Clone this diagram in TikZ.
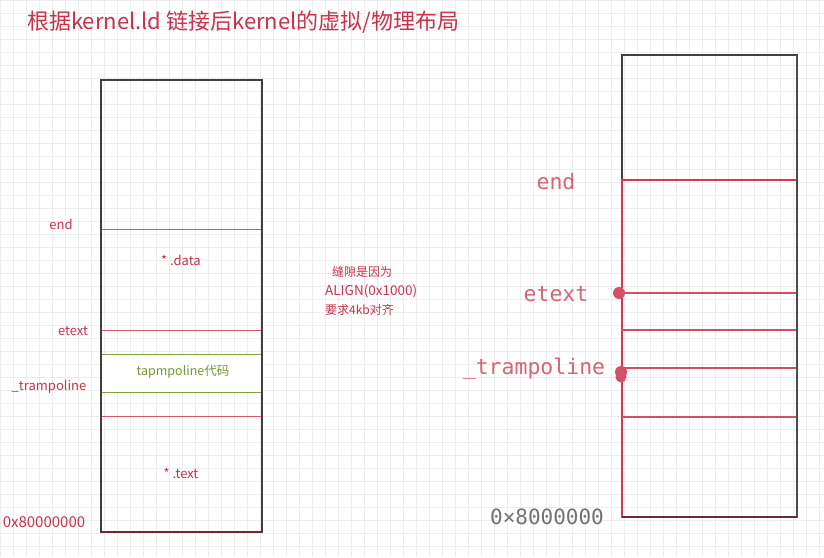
\documentclass[tikz,border=0pt]{standalone}
\usepackage{fontspec}
\setmainfont{Noto Sans CJK SC}
\newfontfamily\monof{DejaVu Sans Mono}
\begin{document}
\begin{tikzpicture}[x=1pt,y=-1pt,
  gridline/.style={draw=black!7,line width=0.5pt},
  outerbox/.style={draw=black!75,line width=1.4pt},
  redline/.style={draw={rgb,255:red,210;green,80;blue,100},line width=1.2pt},
  redlinel/.style={draw={rgb,255:red,214;green,88;blue,110},line width=1pt},
  greenbox/.style={draw={rgb,255:red,130;green,160;blue,60},line width=1pt},
  redtxt/.style={text={rgb,255:red,200;green,50;blue,75}},
  smalltxt/.style={redtxt,font=\fontsize{13}{15}\selectfont},
  pinktxt/.style={text={rgb,255:red,214;green,100;blue,118},font=\monof\fontsize{21.5}{24}\selectfont},
  dot/.style={circle,fill={rgb,255:red,214;green,80;blue,100},inner sep=0pt,minimum size=12pt}
]
\useasboundingbox (0,0) rectangle (824,557);
\fill[white] (0,0) rectangle (824,557);
% grid
\foreach \i in {0,...,64} {\draw[gridline] (\i*13,0) -- (\i*13,557);}
\foreach \j in {0,...,43} {\draw[gridline] (0,\j*13) -- (824,\j*13);}
% title
\node[redtxt,font=\fontsize{22}{26}\selectfont,anchor=west,inner sep=0pt] (title) at (27,22) {根据kernel.ld\ 链接后kernel的虚拟/物理布局};
% left diagram
\draw[redlinel] (101,229) -- (262,229);
\draw[redlinel] (101,330) -- (262,330);
\draw[redlinel] (101,416) -- (262,416);
\draw[greenbox,fill=white] (101,354) rectangle (262,392);
\draw[outerbox] (101,80) rectangle (262,532);
\draw[draw={rgb,255:red,110;green,40;blue,50},line width=1.8pt] (101,532) -- (262,532);
\node[smalltxt] (lend) at (61,224) {end};
\node[smalltxt] (ldata) at (181,260) {* .data};
\node[smalltxt] (letext) at (73,331) {etext};
\node[text={rgb,255:red,120;green,150;blue,50},font=\fontsize{12.5}{15}\selectfont] (ltramp) at (183,372) {tapmpoline代码};
\node[smalltxt] (ltl) at (49,387) {\_trampoline};
\node[smalltxt] (ltext) at (181,473) {* .text};
\node[redtxt,font=\fontsize{15}{17}\selectfont] (laddr) at (44,522) {0x80000000};
% middle note
\node[redtxt,font=\fontsize{12}{19}\selectfont,align=left,anchor=north west,inner sep=0pt] (note) at (325,266) {\hspace*{7pt}缝隙是因为\\\fontsize{13.5}{19}\selectfont ALIGN(0x1000)\\要求4kb对齐};
% right diagram
\draw[outerbox] (622,55) rectangle (797,517);
\draw[redline,draw={rgb,255:red,200;green,60;blue,85}] (622,180) rectangle (797,517);
\draw[redline] (622,293) -- (797,293);
\draw[redline] (622,330) -- (797,330);
\draw[redline] (622,368) -- (797,368);
\draw[redline] (622,417) -- (797,417);
\draw[draw=black!70,line width=1.4pt] (797,55) -- (797,517);
\draw[draw={rgb,255:red,110;green,40;blue,55},line width=1.8pt] (622,517) -- (797,517);
\node[dot] (d1) at (619,293) {};
\node[dot] (d2) at (621,372) {};
\node[dot,minimum size=11pt] (d3) at (621,377) {};
\node[pinktxt] (rend) at (556,181) {end};
\node[pinktxt] (retext) at (556,294) {etext};
\node[pinktxt] (rtl) at (534,369) {\_trampoline};
\node[text=black!55,font=\monof\fontsize{21}{24}\selectfont] (raddr) at (547,517) {0×8000000};
\end{tikzpicture}
\end{document}
